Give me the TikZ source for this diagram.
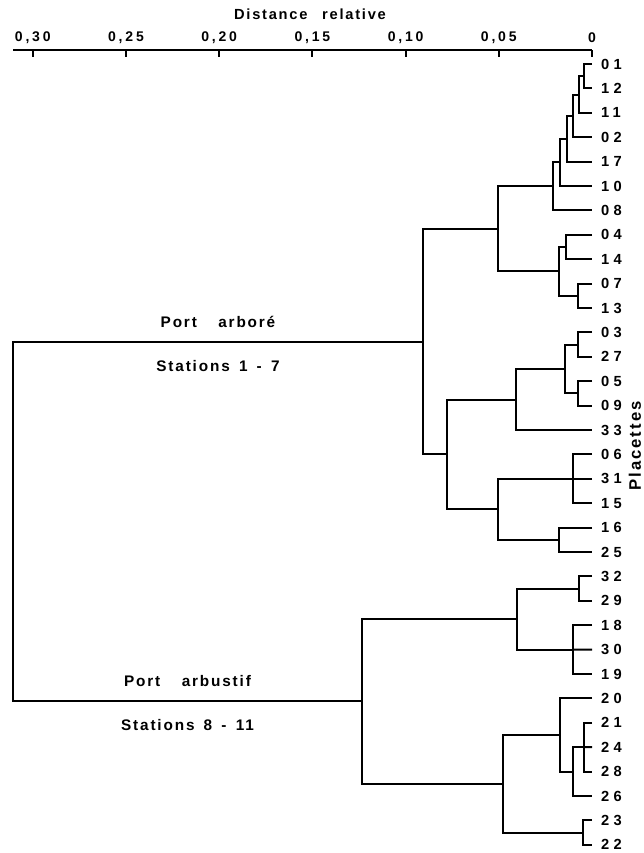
\documentclass[tikz,border=0pt]{standalone}
\usepackage{fontspec}
\setmainfont{Liberation Sans}
\newfontfamily\txtfont[LetterSpace=12]{Liberation Sans}
\newfontfamily\numfont[LetterSpace=30]{Liberation Sans}
\newfontfamily\axfont[LetterSpace=20]{Liberation Sans}
\usepackage{tikz}
\usetikzlibrary{positioning,calc}

% one branch of the tree: name, x (px), two children
\newcommand\branche[4]{%
  \path let \p1=(#3), \p2=(#4) in coordinate (#1) at ({#2*0.75pt},{(\y1+\y2)/2});
  \draw (#3) -| (#1) |- (#4);}

\begin{document}
\begin{tikzpicture}[
  x=0.75pt, y=-0.75pt, line width=1.5pt,
  font=\fontsize{10.5}{12}\selectfont\bfseries,
  leaf/.style={anchor=west, inner xsep=6pt, inner ysep=0pt, font=\fontsize{11}{12}\selectfont\bfseries\numfont},
  tick/.style={inner sep=0pt, font=\fontsize{10.5}{12}\selectfont\bfseries\axfont},
  grplbl/.style={inner sep=0pt, font=\fontsize{11.5}{13}\selectfont\bfseries\txtfont},
]
\useasboundingbox (0,0) rectangle (643,853);

% axis
\node[grplbl, font=\fontsize{11}{13}\selectfont\bfseries\txtfont] (titre) at (310,14) {Distance\hspace{1em}relative};
\coordinate (ax0) at (13,50);
\coordinate (ax1) at (592,50);
\draw (ax0) -- (ax1);
\foreach \k/\t in {0/0,1/{0,05},2/{0,10},3/{0,15},4/{0,20},5/{0,25},6/{0,30}} {
  \node[tick] (t\k) at ({592-93.2*\k},38) {\t};
  \draw (t\k |- ax0) -- ++(0,7);
}

% placettes
\foreach \n [count=\i from 0] in {01,12,11,02,17,10,08,04,14,07,13,03,27,05,09,33,
    06,31,15,16,25,32,29,18,30,19,20,21,24,28,26,23,22}
  \node[leaf] (p\n) at (592,{64+24.4*\i}) {\n};
\node[grplbl, font=\fontsize{12.5}{14}\selectfont\bfseries\txtfont, rotate=90] (plac) at (635,446) {Placettes};

% port arbore
\branche{n1}{584}{p01.west}{p12.west}
\branche{n2}{579}{n1}{p11.west}
\branche{n3}{573}{n2}{p02.west}
\branche{n4}{567}{n3}{p17.west}
\branche{n5}{560}{n4}{p10.west}
\branche{n6}{553}{n5}{p08.west}
\branche{n7}{566}{p04.west}{p14.west}
\branche{n8}{578}{p07.west}{p13.west}
\branche{n9}{559}{n7}{n8}
\branche{n10}{498}{n6}{n9}
\branche{n11}{578}{p03.west}{p27.west}
\branche{n12}{578}{p05.west}{p09.west}
\branche{n13}{565}{n11}{n12}
\branche{n14}{516}{n13}{p33.west}
\branche{n15}{573}{p06.west}{p15.west}
\draw (p31.west) -- (n15);
\branche{n16}{559}{p16.west}{p25.west}
\branche{n17}{498}{n15}{n16}
\branche{n18}{447}{n14}{n17}
\branche{n19}{423}{n10}{n18}

% port arbustif
\branche{n20}{579}{p32.west}{p29.west}
\branche{n21}{573}{p18.west}{p19.west}
\draw (p30.west) -- (n21);
\branche{n22}{517}{n20}{n21}
\branche{n23}{584}{p21.west}{p28.west}
\draw (p24.west) -- (n23);
\branche{n24}{573}{n23}{p26.west}
\branche{n25}{560}{p20.west}{n24}
\branche{n26}{583}{p23.west}{p22.west}
\branche{n27}{503}{n25}{n26}
\branche{n28}{362}{n22}{n27}

% racine
\branche{n0}{13}{n19}{n28}
\node[grplbl, above=10pt] (arb) at ($(n0 |- n19)!.5!(n19)$) {Port\hspace{1.4em}arbor\'e};
\node[grplbl, below=13pt] (st1) at ($(n0 |- n19)!.5!(n19)$) {Stations\hspace{.6em}1\hspace{.6em}-\hspace{.6em}7};
\node[grplbl, above=10pt] (arbu) at ($(n0 |- n28)!.5!(n28)$) {Port\hspace{1.4em}arbustif};
\node[grplbl, below=13pt] (st2) at ($(n0 |- n28)!.5!(n28)$) {Stations\hspace{.6em}8\hspace{.6em}-\hspace{.6em}11};
\end{tikzpicture}
\end{document}
